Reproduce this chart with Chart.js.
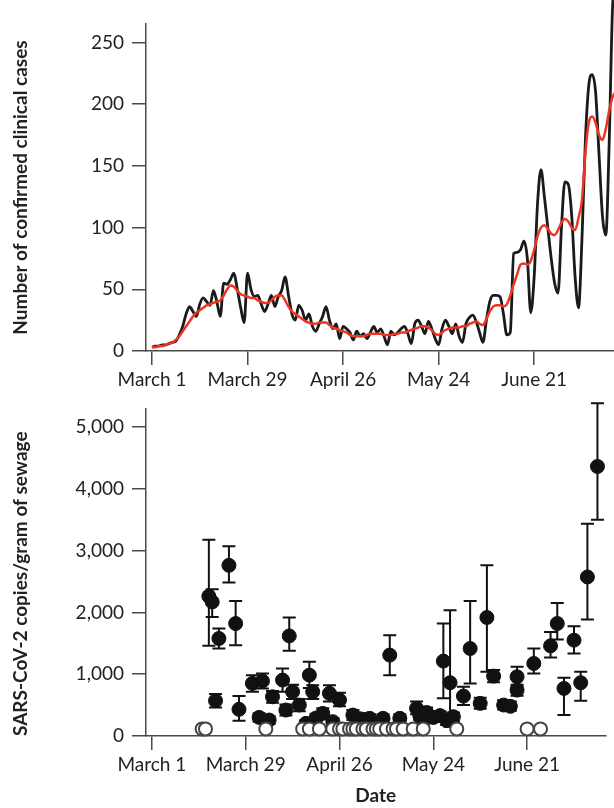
<!DOCTYPE html>
<html lang="en">
<head>
<meta charset="UTF-8">
<title>Confirmed clinical cases and SARS-CoV-2 in sewage</title>
<script src="https://cdn.jsdelivr.net/npm/chart.js@4.4.0/dist/chart.umd.min.js"></script>
<style>
  html, body { margin: 0; padding: 0; background: #fff; overflow: hidden; }
  #wrap { position: relative; width: 614px; height: 808px; }
  .box { position: absolute; left: 0; width: 614px; }
  #top { top: 0; height: 400px; }
  #bottom { top: 400px; height: 408px; }
</style>
</head>
<body>
<div id="wrap">
  <div class="box" id="top"><canvas id="casesChart"></canvas></div>
  <div class="box" id="bottom"><canvas id="sewageChart"></canvas></div>
</div>
<script>
// x values are days after March 1
const dateTicks = [0, 28, 56, 84, 112];
const dateLabels = ['March 1', 'March 29', 'April 26', 'May 24', 'June 21'];
const caseTicks = [0, 50, 100, 150, 200, 250];
const sewageTicks = [0, 1000, 2000, 3000, 4000, 5000];

// daily confirmed cases, day 0 = March 1
const dailyCases = [
  3, 4, 4, 5, 5, 6, 7, 8, 13, 20, 30, 36, 32, 28, 38, 43, 40, 37, 49, 40,
  28, 55, 54, 58, 63, 50, 35, 23, 63, 50, 44, 45, 38, 32, 38, 45, 36, 44, 49, 60,
  45, 30, 25, 37, 33, 25, 30, 20, 16, 22, 28, 36, 25, 18, 22, 10, 20, 18, 15, 9,
  16, 12, 14, 10, 15, 20, 15, 18, 12, 5, 16, 13, 15, 18, 20, 14, 6, 22, 25, 20,
  14, 24, 18, 10, 5, 18, 25, 20, 14, 22, 12, 7, 22, 27, 29, 24, 15, 7, 25, 40,
  45, 45, 44, 30, 13, 15, 79, 80, 82, 89, 75, 31, 60, 120, 147, 125, 100, 75, 55, 47,
  100, 137, 135, 110, 60, 35, 90, 170, 215, 224, 210, 160, 110, 94, 170, 280, 300
];
// 7-day average (red)
const averageCases = [
  3, 3, 4, 4, 5, 6, 7, 9, 12, 16, 20, 24, 28, 31, 33, 35, 37, 38, 39, 40,
  41, 45, 50, 53, 52, 49, 46, 45, 44, 43, 43, 41, 40, 39, 39, 41, 44, 45, 45, 41,
  36, 32, 30, 28, 26, 24, 23, 22, 22, 23, 23, 23, 21, 19, 18, 17, 16, 15, 13, 12,
  12, 12, 12, 13, 14, 14, 14, 14, 13, 13, 13, 14, 14, 15, 15, 16, 17, 18, 19, 20,
  20, 19, 17, 14, 13, 15, 17, 18, 19, 19, 19, 20, 20, 22, 23, 24, 22, 21, 26, 32,
  36, 37, 37, 36, 38, 45, 54, 62, 70, 71, 70, 73, 82, 93, 100, 102, 99, 95, 94, 98,
  104, 107, 105, 100, 98, 108, 122, 160, 185, 190, 185, 175, 171, 180, 195, 206, 210
];
const caseDays = dailyCases.map((_, i) => i);

// sewage samples with detected virus (mean, lower, upper)
const sewageDays = [17, 18, 19, 20, 23, 25, 26, 30, 32, 33, 35, 36, 39, 40, 41, 42, 44, 46, 47, 48,
  49, 51, 53, 54, 56, 60, 62, 63, 65, 69, 71, 74, 79, 80, 81, 82, 84, 86, 87, 88,
  89, 90, 93, 95, 98, 100, 102, 105, 107, 109, 109, 114, 119, 121, 123, 126, 128, 130, 133];
const sewageCopies = [2262, 2170, 571, 1578, 2762, 1820, 431, 851, 301, 889, 258, 635, 905, 420, 1620, 716, 501, 205, 985, 716,
  290, 366, 690, 232, 582, 339, 280, 270, 286, 286, 1309, 286, 447, 320, 250, 380, 300, 330, 1212, 250,
  862, 312, 646, 1416, 528, 1918, 969, 501, 480, 958, 743, 1174, 1459, 1820, 770, 1551, 862, 2574, 4362];
const sewageLow = [1459, 1927, 463, 1417, 2483, 1470, 248, 716, 230, 770, 200, 540, 716, 330, 1378, 600, 400, 150, 775, 600,
  220, 280, 560, 180, 480, 260, 220, 210, 220, 220, 985, 220, 350, 250, 180, 300, 230, 260, 609, 180,
  150, 240, 501, 851, 440, 1039, 870, 430, 410, 800, 650, 1013, 1271, 1562, 339, 1336, 571, 1885, 3500];
const sewageHigh = [3177, 2375, 678, 1740, 3070, 2186, 646, 985, 370, 1013, 320, 730, 1094, 510, 1918, 830, 600, 260, 1200, 820,
  360, 450, 820, 290, 700, 420, 340, 330, 350, 350, 1632, 350, 560, 400, 330, 460, 380, 400, 1820, 320,
  2035, 380, 796, 2186, 620, 2762, 1070, 580, 560, 1120, 830, 1417, 1685, 2153, 942, 1777, 1039, 3436, 5385];

// samples below detection (open circles)
const nondetectDays = [15, 16, 34, 45, 47, 50, 54, 56, 57, 59, 60, 61, 63, 64, 66, 67, 68, 70, 72, 73, 75, 78, 81, 91, 112, 116];
const nondetectCopies = [115, 115, 115, 115, 115, 115, 115, 115, 115, 115, 115, 115, 115, 115, 115, 115, 115, 115, 115, 115, 115, 115, 115, 115, 115, 115];

Chart.defaults.font.family = 'Lato, "Open Sans", sans-serif';
Chart.defaults.color = '#222';
Chart.defaults.animation = false;

const axisColor = '#4a4a4a';
const tickFont = { size: 19 };
const titleFont = { size: 19, weight: 'bold' };

function xAxis(height, titleText) {
  return {
    type: 'linear',
    min: -1.76,
    max: 135.4,
    border: { display: true, color: axisColor, width: 1.5 },
    grid: { drawOnChartArea: false, drawTicks: true, tickLength: 14, color: axisColor, lineWidth: 1.5 },
    afterBuildTicks: s => { s.ticks = dateTicks.map(v => ({ value: v })); },
    ticks: {
      autoSkip: false, maxRotation: 0, padding: 3, font: tickFont, color: '#222',
      callback: v => dateLabels[dateTicks.indexOf(v)]
    },
    title: titleText ? { display: true, text: titleText, font: titleFont, color: '#222', padding: { top: 0, bottom: 1 } } : { display: false },
    afterFit: s => { s.height = height; s.paddingLeft = 0; s.paddingRight = 0; }
  };
}

function yAxis(max, ticksList, titleText, align) {
  return {
    min: 0,
    max: max,
    border: { display: true, color: axisColor, width: 1.5 },
    grid: { drawOnChartArea: false, drawTicks: true, tickLength: 14, color: axisColor, lineWidth: 1.5 },
    afterBuildTicks: s => { s.ticks = ticksList.map(v => ({ value: v })); },
    ticks: {
      padding: 8, font: tickFont, color: '#222',
      callback: v => v.toLocaleString('en-US')
    },
    title: { display: true, text: titleText, font: titleFont, color: '#222', align: align, padding: { top: 9, bottom: 0 } },
    afterFit: s => { s.width = 146; s.paddingTop = 0; s.paddingBottom = 0; }
  };
}

new Chart(document.getElementById('casesChart'), {
  type: 'line',
  data: {
    datasets: [
      {
        label: '7-day average',
        data: caseDays.map((d, i) => ({ x: d, y: averageCases[i] })),
        borderColor: '#ee3524',
        borderWidth: 2.5,
        pointRadius: 0,
        cubicInterpolationMode: 'monotone',
        clip: false,
        order: 0
      },
      {
        label: 'Daily cases',
        data: caseDays.map((d, i) => ({ x: d, y: dailyCases[i] })),
        borderColor: '#1a1a1a',
        borderWidth: 2.8,
        pointRadius: 0,
        cubicInterpolationMode: 'monotone',
        clip: false,
        order: 1
      }
    ]
  },
  options: {
    responsive: true,
    maintainAspectRatio: false,
    layout: { padding: { top: 24, right: 0, bottom: 0, left: 0 } },
    plugins: { legend: { display: false }, tooltip: { enabled: false } },
    scales: {
      x: xAxis(49, null),
      y: yAxis(265, caseTicks, 'Number of confirmed clinical cases', 'center')
    }
  }
});

const errorBars = {
  id: 'errorBars',
  beforeDatasetsDraw(chart) {
    const { ctx, scales: { x, y } } = chart;
    ctx.save();
    ctx.strokeStyle = '#111';
    ctx.lineWidth = 2;
    sewageDays.forEach((d, i) => {
      const px = x.getPixelForValue(d);
      const hi = y.getPixelForValue(sewageHigh[i]);
      const lo = y.getPixelForValue(sewageLow[i]);
      ctx.beginPath();
      ctx.moveTo(px, hi); ctx.lineTo(px, lo);
      ctx.moveTo(px - 6.5, hi); ctx.lineTo(px + 6.5, hi);
      ctx.moveTo(px - 6.5, lo); ctx.lineTo(px + 6.5, lo);
      ctx.stroke();
    });
    ctx.restore();
  }
};

new Chart(document.getElementById('sewageChart'), {
  type: 'scatter',
  data: {
    datasets: [
      {
        label: 'Not detected',
        data: nondetectDays.map((d, i) => ({ x: d, y: nondetectCopies[i] })),
        pointRadius: 6.5,
        pointBackgroundColor: '#fff',
        pointBorderColor: '#444',
        pointBorderWidth: 2,
        clip: false,
        order: 0
      },
      {
        label: 'Detected',
        data: sewageDays.map((d, i) => ({ x: d, y: sewageCopies[i] })),
        pointRadius: 7,
        pointBackgroundColor: '#111',
        pointBorderColor: '#111',
        pointBorderWidth: 1,
        clip: false,
        order: 1
      }
    ]
  },
  options: {
    responsive: true,
    maintainAspectRatio: false,
    layout: { padding: { top: 8, right: 0, bottom: 0, left: 0 } },
    plugins: { legend: { display: false }, tooltip: { enabled: false } },
    scales: {
      x: xAxis(72, 'Date'),
      y: yAxis(5300, sewageTicks, 'SARS-CoV-2 copies/gram of sewage', 'start')
    }
  },
  plugins: [errorBars]
});
</script>
</body>
</html>
